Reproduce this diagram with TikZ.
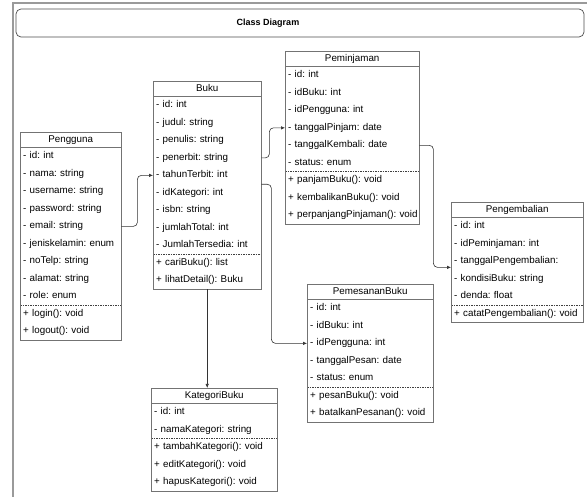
\documentclass[tikz,border=0pt]{standalone}
\usepackage{fontspec}
\setmainfont{Liberation Sans}
\usepackage{tikz}
\usetikzlibrary{arrows.meta}
\usetikzlibrary{positioning}
\frenchspacing

\definecolor{boxgray}{HTML}{737373}
\definecolor{framegray}{HTML}{9A9A9A}
\definecolor{linkgray}{HTML}{333333}

\tikzstyle{classhead} = [rectangle, anchor=north west, inner sep=0pt, minimum height=15pt, text height=7.2pt, text depth=2pt, font=\fontsize{9.8}{12}\selectfont]
\tikzstyle{classrow} = [rectangle, anchor=north west, inner xsep=3pt, inner ysep=0pt, minimum height=17.5pt, text height=7.2pt, text depth=2pt, align=left, font=\fontsize{9.8}{12}\selectfont]
\tikzstyle{classline} = [draw=boxgray, line width=0.7pt]
\tikzstyle{sepline} = [draw=black!75, line width=0.5pt, dash pattern=on 1.5pt off 1pt]
\tikzstyle{link} = [draw=linkgray, line width=0.6pt, rounded corners=4pt, -{Latex[length=4pt,width=3.5pt]}]

% #1 name, #2 top left corner, #3 width, #4 title, #5 attributes, #6 methods
\newcommand{\umlclass}[6]{%
  \pgfmathsetmacro\rowwd{#3-6}
  \node[classhead, minimum width=#3pt] (#1) at #2 {#4};
  \foreach \txt [count=\i] in {#5} {
    \node[classrow, text width=\rowwd pt] (#1-\i) at ([yshift={-(\i-1)*17.5pt}]#1.south west) {\mbox{\txt}};
    \xdef\nattr{\i}
  }
  \foreach \txt [count=\j] in {#6} {
    \node[classrow, text width=\rowwd pt] (#1-m\j) at ([yshift={-(\nattr+\j-1)*17.5pt}]#1.south west) {\mbox{\txt}};
    \xdef\nmeth{\j}
  }
  \draw[classline] (#1.south west) -- (#1.south east);
  \draw[sepline] ([yshift={-\nattr*17.5pt}]#1.south west) -- ([yshift={-\nattr*17.5pt}]#1.south east);
  \draw[classline] (#1.north west) rectangle ([yshift={-(\nattr+\nmeth)*17.5pt}]#1.south east);
}

\begin{document}
\begin{tikzpicture}[x=1pt, y=-1pt]
  \useasboundingbox (0,0) rectangle (587,497);

  % frame and title
  \draw[framegray, line width=1.2pt] (13,497) -- (13,3) -- (587,3);
  \draw[draw=black!70, line width=0.7pt, rounded corners=5pt] (16,9) rectangle (584,37);
  \node[font=\fontsize{9}{11}\selectfont\bfseries] (title) at (268,23) {Class Diagram};

  % classes
  \umlclass{pg}{(20,132)}{101}{Pengguna}
    {- id: int, - nama: string, - username: string, - password: string, - email: string,
     - jeniskelamin: enum, - noTelp: string, - alamat: string, - role: enum}
    {+ login(): void, + logout(): void}
  \umlclass{bk}{(153,81)}{108}{Buku}
    {- id: int, - judul: string, - penulis: string, - penerbit: string, - tahunTerbit: int,
     - idKategori: int, - isbn: string, - jumlahTotal: int, - JumlahTersedia: int}
    {+ cariBuku(): list, + lihatDetail(): Buku}
  \umlclass{pj}{(285,51)}{134}{Peminjaman}
    {- id: int, - idBuku: int, - idPengguna: int, - tanggalPinjam: date,
     - tanggalKembali: date, - status: enum}
    {+ panjamBuku(): void, + kembalikanBuku(): void, + perpanjangPinjaman(): void}
  \umlclass{pb}{(451,202)}{132}{Pengembalian}
    {- id: int, - idPeminjaman: int, - tanggalPengembalian:, - kondisiBuku: string, - denda: float}
    {+ catatPengembalian(): void}
  \umlclass{ps}{(307,284)}{126}{PemesananBuku}
    {- id: int, - idBuku: int, - idPengguna: int, - tanggalPesan: date, - status: enum}
    {+ pesanBuku(): void, + batalkanPesanan(): void}
  \umlclass{kb}{(151,388)}{126}{KategoriBuku}
    {- id: int, - namaKategori: string}
    {+ tambahKategori(): void, + editKategori(): void, + hapusKategori(): void}

  % relations
  \draw[link] (pg-5.east) -- ++(16,0) |- (bk-5.west);
  \draw[link] (bk-4.east) -- ++(8,0) |- (pj-4.west);
  \draw[link] (bk-5.south east) -- ++(10,0) |- (ps-3.west);
  \draw[link] (bk-m2.south) -- (bk-m2.south |- kb.north);
  \draw[link] (pj-5.east) -- ++(14,0) |- ([yshift=-6pt]pb-3.west);
\end{tikzpicture}
\end{document}
